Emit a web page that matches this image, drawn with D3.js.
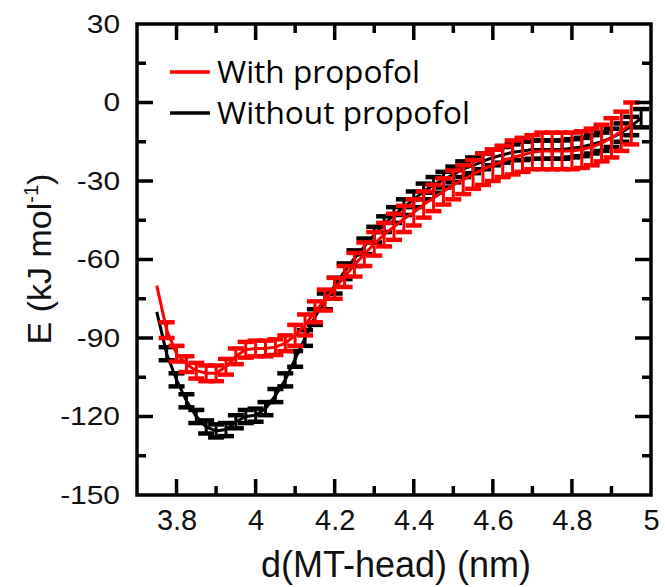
<!DOCTYPE html>
<html>
<head>
<meta charset="utf-8">
<script src="https://cdn.jsdelivr.net/npm/d3@7"></script>
</head>
<body style="margin:0">
<div id="viz"></div>
<script>
'use strict';

const width = 665;
const height = 587;

// distance (nm), energy (kJ/mol), error
const dWith = [3.750, 3.775, 3.800, 3.825, 3.850, 3.875, 3.900, 3.925, 3.950, 3.975,
    4.000, 4.025, 4.050, 4.075, 4.100, 4.125, 4.150, 4.175, 4.200, 4.225,
    4.250, 4.275, 4.300, 4.325, 4.350, 4.375, 4.400, 4.425, 4.450, 4.475,
    4.500, 4.525, 4.550, 4.575, 4.600, 4.625, 4.650, 4.675, 4.700, 4.725,
    4.750, 4.775, 4.800, 4.825, 4.850, 4.875, 4.900, 4.925, 4.950];
const eWith = [-70, -87, -96, -100, -102.5, -103.5, -103.5, -101, -97, -94.5,
    -94, -94, -93.5, -92, -89, -85, -80, -75.5, -71, -66.5,
    -62, -58, -54, -50.5, -47.5, -44.5, -42, -39, -36.5, -34,
    -31.5, -29.5, -27.5, -25.5, -24, -22.5, -21, -20, -19, -18.5,
    -18.5, -18.5, -18.5, -18, -17, -15.5, -13.5, -11, -8];
const errWith = [0, 3, 3, 3, 3, 3, 3, 3, 3, 3,
    3, 3, 3, 3, 4, 4, 4, 4, 4, 4,
    4.5, 4.5, 4.5, 4.5, 5, 5, 5, 5, 5, 5,
    5.5, 5.5, 5.5, 6, 6, 6, 6.5, 6.5, 6.5, 7,
    7, 7, 7, 7, 7, 7, 7.5, 7.5, 8];

const dWithout = [3.750, 3.775, 3.800, 3.825, 3.850, 3.875, 3.900, 3.925, 3.950, 3.975,
    4.000, 4.025, 4.050, 4.075, 4.100, 4.125, 4.150, 4.175, 4.200, 4.225,
    4.250, 4.275, 4.300, 4.325, 4.350, 4.375, 4.400, 4.425, 4.450, 4.475,
    4.500, 4.525, 4.550, 4.575, 4.600, 4.625, 4.650, 4.675, 4.700, 4.725,
    4.750, 4.775, 4.800, 4.825, 4.850, 4.875, 4.900, 4.925, 4.950, 4.975];
const eWithout = [-80, -96, -106, -114, -120, -124, -125.5, -125, -122, -120,
    -119.5, -117, -112, -106, -98, -90, -82, -76, -70, -64.5,
    -59.5, -55, -50.5, -46.5, -43, -40, -37, -34, -31.5, -29.5,
    -27.5, -25.5, -24, -22.5, -21, -20, -19, -18.5, -18, -18,
    -18, -18, -17.5, -17, -16, -15, -13.5, -11.5, -9, -6];
const errWithout = [0, 2.5, 2.5, 2.5, 2.5, 2.5, 2.5, 2.5, 2.5, 2.5,
    2.5, 2.5, 2.5, 2.5, 3, 3, 3, 3, 3, 3,
    3, 3, 3, 3, 3, 3, 3, 3, 3, 3,
    3, 3, 3, 3, 3, 3, 3, 3.5, 3.5, 3.5,
    3.5, 3.5, 3.5, 3.5, 3.5, 3.5, 3.5, 3.5, 3.5, 3.5];

const xMajor = [3.8, 4.0, 4.2, 4.4, 4.6, 4.8, 5.0];
const xMinor = [3.9, 4.1, 4.3, 4.5, 4.7, 4.9];
const yMajor = [-150, -120, -90, -60, -30, 0, 30];
const yMinor = [-135, -105, -75, -45, -15, 15];
const legendLabels = ["With propofol", "Without propofol"];
const colors = ["#ff0000", "#000000"];

const plotL = 137, plotR = 651, plotT = 24, plotB = 495;

const svg = d3.select("#viz")
    .append("svg")
    .attr("width", width)
    .attr("height", height);

const x = d3.scaleLinear().domain([3.7, 5.0]).range([plotL, plotR]);
const y = d3.scaleLinear().domain([-150, 30]).range([plotB, plotT]);

// tick labels
const xAx = svg.append("g")
    .attr("transform", `translate(0,${plotB})`)
    .call(d3.axisBottom(x).tickValues(xMajor).tickSize(0).tickPadding(14).tickFormat(d3.format("~g")));
const yAx = svg.append("g")
    .attr("transform", `translate(${plotL},0)`)
    .call(d3.axisLeft(y).tickValues(yMajor).tickSize(0).tickPadding(17).tickFormat(v => String(v)));
xAx.select(".domain").remove();
yAx.select(".domain").remove();
xAx.selectAll("line").remove();
yAx.selectAll("line").remove();

xAx.selectAll("text")
    .attr("fill", "#111111")
    .style("font-family", "'Liberation Sans', Arial, sans-serif")
    .style("font-size", "29px");
yAx.selectAll("text")
    .attr("fill", "#111111")
    .style("font-family", "'Liberation Sans', Arial, sans-serif")
    .style("font-size", "26px")
    .each(function() {
        let w = this.getComputedTextLength();
        d3.select(this).attr("textLength", w * 1.15).attr("lengthAdjust", "spacingAndGlyphs");
    });

// series
function drawSeries(ds, es, errs, color) {
    let pts = ds.map((d, i) => ({ d: d, e: es[i], err: errs[i] }));
    let g = svg.append("g").attr("stroke", color);
    let bars = pts.filter(p => p.err > 0);
    g.selectAll(null)
        .data(bars)
        .enter()
        .append("line")
        .attr("x1", p => x(p.d)).attr("x2", p => x(p.d))
        .attr("y1", p => y(p.e - p.err)).attr("y2", p => y(p.e + p.err))
        .attr("stroke-width", 3);
    [-1, 1].forEach(s => {
        g.selectAll(null)
            .data(bars)
            .enter()
            .append("line")
            .attr("x1", p => x(p.d) - 8).attr("x2", p => x(p.d) + 8)
            .attr("y1", p => y(p.e + s * p.err))
            .attr("y2", p => y(p.e + s * p.err))
            .attr("stroke-width", 4.5);
    });
    g.append("path")
        .datum(pts)
        .attr("fill", "none")
        .attr("stroke-width", 3)
        .attr("d", d3.line().x(p => x(p.d)).y(p => y(p.e)));
}
drawSeries(dWithout, eWithout, errWithout, colors[1]);
drawSeries(dWith, eWith, errWith, colors[0]);

// frame and inward ticks, built like the series marks
const axisG = svg.append("g").attr("stroke", colors[1]);
const tickX = xMajor.filter(v => v < 5).map(v => ({ v: v, len: 16 }))
    .concat(xMinor.map(v => ({ v: v, len: 9 })));
const tickY = yMajor.filter(v => v > -150 && v < 30).map(v => ({ v: v, len: 16 }))
    .concat(yMinor.map(v => ({ v: v, len: 9 })));
[[plotB, -1], [plotT, 1]].forEach(([yy, dir]) => {
    axisG.selectAll(null)
        .data(tickX)
        .enter()
        .append("line")
        .attr("x1", t => x(t.v)).attr("x2", t => x(t.v))
        .attr("y1", yy).attr("y2", t => yy + dir * t.len)
        .attr("stroke-width", 3.5);
});
[[plotL, 1], [plotR, -1]].forEach(([xx, dir]) => {
    axisG.selectAll(null)
        .data(tickY)
        .enter()
        .append("line")
        .attr("x1", xx).attr("x2", t => xx + dir * t.len)
        .attr("y1", t => y(t.v)).attr("y2", t => y(t.v))
        .attr("stroke-width", 3.5);
});
axisG.append("path")
    .datum([[3.7, -150], [3.7, 30], [5.0, 30], [5.0, -150], [3.7, -150]])
    .attr("fill", "none")
    .attr("stroke-width", 3.5)
    .attr("stroke-linecap", "square")
    .attr("d", d3.line().x(p => x(p[0])).y(p => y(p[1])));

// legend
const legend = svg.append("g");
const legendWidths = [203, 253];
legendLabels.forEach((lab, i) => {
    let ly = 72 + i * 41;
    legend.append("line")
        .attr("x1", 170).attr("x2", 210).attr("y1", ly).attr("y2", ly)
        .attr("stroke", colors[i]).attr("stroke-width", 3.5);
    legend.append("text")
        .attr("x", 217).attr("y", ly + 11)
        .attr("textLength", legendWidths[i])
        .attr("lengthAdjust", "spacingAndGlyphs")
        .style("font-family", "'Open Sans', 'Noto Sans', sans-serif")
        .style("font-size", "31px")
        .attr("fill", colors[1])
        .text(lab);
});

// axis titles
svg.append("text")
    .attr("x", 396).attr("y", 577)
    .attr("text-anchor", "middle")
    .style("font-family", "'Liberation Sans', Arial, sans-serif")
    .style("font-size", "36px")
    .attr("fill", "#111111")
    .text("d(MT-head) (nm)");

const yt = svg.append("text")
    .attr("transform", "translate(51,259) rotate(-90)")
    .attr("text-anchor", "middle")
    .style("font-family", "'Liberation Sans', Arial, sans-serif")
    .style("font-size", "34px")
    .attr("fill", "#111111");
yt.append("tspan").text("E (kJ mol");
yt.append("tspan").attr("dy", -13).style("font-size", "20px").text("-1");
yt.append("tspan").attr("dy", 13).text(")");
</script>
</body>
</html>
